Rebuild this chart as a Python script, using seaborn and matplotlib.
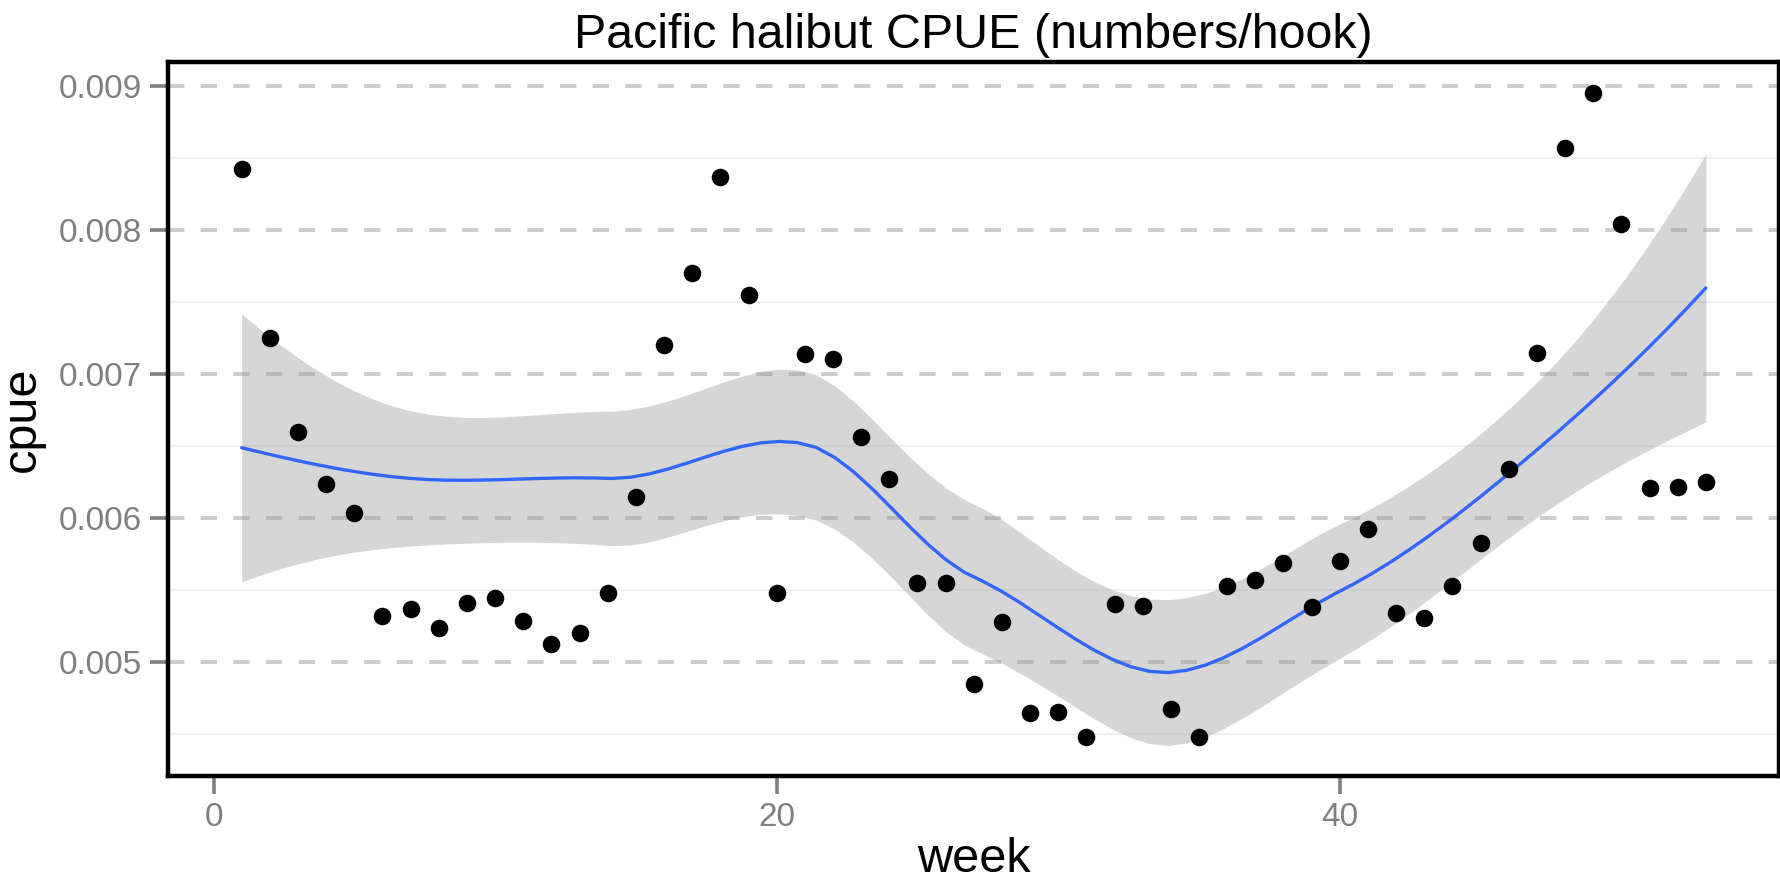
import math
import numpy as np
import pandas as pd
import matplotlib
matplotlib.use("Agg")
import matplotlib.pyplot as plt
from matplotlib.ticker import FixedLocator, FormatStrFormatter
import seaborn as sns

# ---- data -------------------------------------------------------------
weeks = list(range(1, 54))
cpue = [0.008425, 0.00725, 0.0066, 0.006235, 0.006032, 0.005318, 0.005364, 0.005232,
        0.00541, 0.005443, 0.005285, 0.005123, 0.005197, 0.005475, 0.006147, 0.007202,
        0.007704, 0.008372, 0.007547, 0.005478, 0.007141, 0.007107, 0.00656, 0.006272,
        0.005545, 0.005547, 0.004845, 0.005278, 0.004646, 0.004653, 0.004474, 0.005399,
        0.005387, 0.004669, 0.004474, 0.005526, 0.005568, 0.005684, 0.005378, 0.005702,
        0.005925, 0.005336, 0.005302, 0.005524, 0.005827, 0.006342, 0.007148, 0.008573,
        0.008956, 0.008043, 0.006207, 0.006212, 0.006251]
x_ticks = [0, 20, 40]
y_ticks = [0.005, 0.006, 0.007, 0.008, 0.009]
y_minor = [0.0045, 0.0055, 0.0065, 0.0075, 0.0085]
title = "Pacific halibut CPUE (numbers/hook)"

df = pd.DataFrame({"week": weeks, "cpue": cpue})


# ---- loess smoother (span 0.75, degree 2, kd-tree + cubic interpolation) --
def local_rows(x, x0, span):
    n = len(x)
    q = int(math.floor(n * span))
    d = np.abs(x - x0)
    h = np.sort(d)[q - 1]
    u = np.clip(d / h, 0, 1)
    w = (1 - u ** 3) ** 3
    X = np.column_stack([np.ones(n), x - x0, (x - x0) ** 2])
    XtW = X.T * w
    B = np.linalg.solve(XtW @ X, XtW)
    return B[0], B[1]


def kd_vertices(x, span, cell=0.2):
    xs = np.sort(x)
    n = len(xs)
    fc = int(math.floor(n * span * cell))
    rng = xs[-1] - xs[0]
    verts = {xs[0] - 0.005 * rng, xs[-1] + 0.005 * rng}
    stack = [(0, n - 1)]
    while stack:
        lo, hi = stack.pop()
        if hi - lo + 1 <= fc:
            continue
        m = ((lo + 1) + (hi + 1)) // 2 - 1
        verts.add(xs[m])
        stack += [(lo, m), (m + 1, hi)]
    return np.array(sorted(verts))


def loess_operator(x, xs, span=0.75):
    verts = kd_vertices(x, span)
    vals, slopes = zip(*[local_rows(x, v, span) for v in verts])
    vals, slopes = np.array(vals), np.array(slopes)
    rows = []
    for x0 in xs:
        j = min(max(np.searchsorted(verts, x0) - 1, 0), len(verts) - 2)
        a, b = verts[j], verts[j + 1]
        hh = b - a
        t = (x0 - a) / hh
        phi0 = (1 - t) ** 2 * (1 + 2 * t)
        phi1 = t ** 2 * (3 - 2 * t)
        psi0 = t * (1 - t) ** 2
        psi1 = -t ** 2 * (1 - t)
        rows.append(phi0 * vals[j] + phi1 * vals[j + 1]
                    + hh * (psi0 * slopes[j] + psi1 * slopes[j + 1]))
    return np.array(rows)


def t_quantile(p, dof):
    c = math.exp(math.lgamma((dof + 1) / 2) - math.lgamma(dof / 2)) / math.sqrt(dof * math.pi)
    t = np.linspace(0, 10, 200001)
    pdf = c * (1 + t ** 2 / dof) ** (-(dof + 1) / 2)
    cdf = 0.5 + np.concatenate([[0], np.cumsum((pdf[1:] + pdf[:-1]) / 2 * np.diff(t))])
    return float(np.interp(p, cdf, t))


x = df["week"].to_numpy(float)
y = df["cpue"].to_numpy(float)
n = len(x)
L = loess_operator(x, x)
resid = y - L @ y
IL = np.eye(n) - L
R = IL.T @ IL
one_delta = np.trace(R)
two_delta = np.trace(R @ R)
sigma = math.sqrt(np.sum(resid ** 2) / one_delta)
dof = one_delta ** 2 / two_delta
tq = t_quantile(0.975, dof)

grid = np.linspace(x.min(), x.max(), 80)
Lg = loess_operator(x, grid)
fit = Lg @ y
se = sigma * np.sqrt(np.sum(Lg ** 2, axis=1))
smooth = pd.DataFrame({"week": grid, "fit": fit, "lo": fit - tq * se, "hi": fit + tq * se})

# ---- plot ---------------------------------------------------------------
sns.set_theme(style="white")
plt.rcParams["font.family"] = ["Liberation Sans", "DejaVu Sans"]

fig = plt.figure(figsize=(17.81, 8.84), dpi=100)
ax = fig.add_axes([0.0946, 0.1225, 0.9043, 0.8074])

ax.fill_between(smooth["week"], smooth["lo"], smooth["hi"], color="#999999", alpha=0.4,
                linewidth=0, zorder=2)
sns.lineplot(data=smooth, x="week", y="fit", ax=ax, color="#3366FF", linewidth=2.4, zorder=3)
sns.scatterplot(data=df, x="week", y="cpue", ax=ax, color="black", s=160, linewidth=0,
                zorder=4)

ax.set_xlim(-1.6, 55.6)
ax.set_ylim(0.004208, 0.009169)
ax.xaxis.set_major_locator(FixedLocator(x_ticks))
ax.yaxis.set_major_locator(FixedLocator(y_ticks))
ax.yaxis.set_minor_locator(FixedLocator(y_minor))
ax.yaxis.set_major_formatter(FormatStrFormatter("%.3f"))

ax.grid(False)
ax.grid(axis="y", which="major", color="#cccccc", linewidth=2.8, linestyle=(0, (4.2, 4.2)),
        zorder=0)
ax.grid(axis="y", which="minor", color="#f0f0f0", linewidth=1.6, linestyle="-", zorder=0)
ax.set_axisbelow(True)

for sp in ax.spines.values():
    sp.set_visible(True)
    sp.set_color("black")
    sp.set_linewidth(3.2)

ax.tick_params(axis="both", which="major", length=13, width=2.6, color="#808080",
               labelcolor="#808080", labelsize=24, pad=6, direction="out",
               bottom=True, left=True)
ax.tick_params(axis="y", which="minor", length=0)

ax.set_xlabel("week", fontsize=35, color="black", labelpad=3)
ax.set_ylabel("cpue", fontsize=35, color="black", labelpad=10)
ax.set_title(title, fontsize=34.8, color="black", pad=10)

fig.savefig("out.png", dpi=100)
